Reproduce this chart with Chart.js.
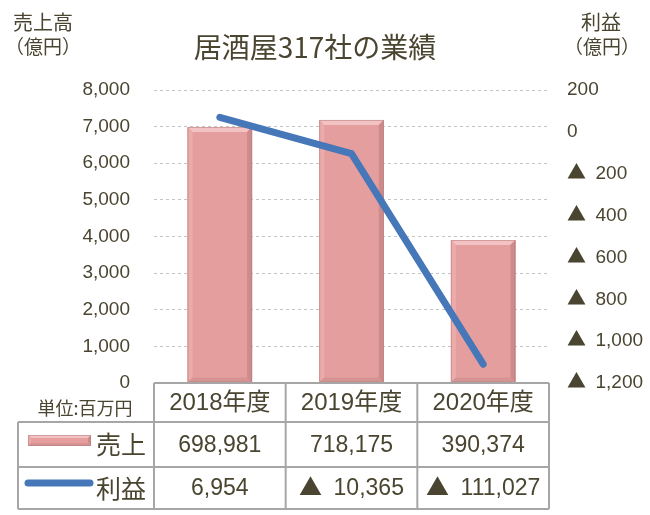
<!DOCTYPE html>
<html>
<head>
<meta charset="utf-8">
<script src="https://cdn.jsdelivr.net/npm/chart.js@4/dist/chart.umd.min.js"></script>
<style>
  @font-face { font-family: 'TriCJK'; src: local('Noto Sans CJK JP'), local('NotoSansCJKjp-Regular'), local('Noto Sans CJK JP Regular'); unicode-range: U+25B2; }
  html, body { margin: 0; padding: 0; background: #fff; }
  #wrap { width: 650px; height: 515px; position: relative; }
</style>
</head>
<body>
<div id="wrap"><canvas id="c" width="650" height="515"></canvas></div>
<script>
// ---- data ----
const categories = ['2018年度', '2019年度', '2020年度'];
const salesMillion = [698981, 718175, 390374];      // 売上 (百万円)
const profitMillion = [6954, -10365, -111027];      // 利益 (百万円)
const salesOku = [6989.81, 7181.75, 3903.74];        // 売上高 (億円)
const profitOku = [69.54, -103.65, -1110.27];        // 利益 (億円)
const titleText = '居酒屋317社の業績';
const leftAxisTitle = ['売上高', '（億円）'];
const rightAxisTitle = ['利益', '（億円）'];
const unitText = '単位:百万円';
const seriesNames = ['売上', '利益'];

const TXT = '#4a4530';
const GRIDC = '#c4c4c4';
const BAR = '#e59e9e';
const LINE = '#4677b8';
const SANS = "TriCJK, 'Liberation Sans', Arial, 'Noto Sans CJK JP', sans-serif";
const CJK = "'Noto Sans CJK JP', 'Liberation Sans', sans-serif";

function fmt(n) { return Math.abs(n).toLocaleString('en-US'); }
function fmtTri(n) { return n < 0 ? '▲\u2002' + fmt(n) : fmt(n); }

function bevelRect(ctx, x0, y0, x1, y1, b) {
  ctx.save();
  ctx.fillStyle = BAR;
  ctx.fillRect(x0, y0, x1 - x0, y1 - y0);
  ctx.fillStyle = '#f3c2c2';
  ctx.beginPath(); ctx.moveTo(x0, y0); ctx.lineTo(x1, y0); ctx.lineTo(x1 - b, y0 + b); ctx.lineTo(x0 + b, y0 + b); ctx.closePath(); ctx.fill();
  ctx.fillStyle = '#ecabab';
  ctx.beginPath(); ctx.moveTo(x0, y0); ctx.lineTo(x0 + b, y0 + b); ctx.lineTo(x0 + b, y1 - b); ctx.lineTo(x0, y1); ctx.closePath(); ctx.fill();
  ctx.fillStyle = '#cd8b8b';
  ctx.beginPath(); ctx.moveTo(x1, y0); ctx.lineTo(x1 - b, y0 + b); ctx.lineTo(x1 - b, y1 - b); ctx.lineTo(x1, y1); ctx.closePath(); ctx.fill();
  ctx.fillStyle = '#d69393';
  ctx.beginPath(); ctx.moveTo(x0, y1); ctx.lineTo(x0 + b, y1 - b); ctx.lineTo(x1 - b, y1 - b); ctx.lineTo(x1, y1); ctx.closePath(); ctx.fill();
  ctx.strokeStyle = 'rgba(175,120,120,0.5)';
  ctx.lineWidth = 1;
  ctx.strokeRect(x0 + 0.5, y0 + 0.5, x1 - x0 - 1, y1 - y0 - 1);
  ctx.restore();
}

const bevelPlugin = {
  id: 'bevel',
  afterDatasetDraw(chart, args) {
    if (args.index !== 0) return;
    const ctx = chart.ctx;
    const meta = chart.getDatasetMeta(0);
    meta.data.forEach(el => {
      const p = el.getProps(['x', 'y', 'base', 'width'], true);
      bevelRect(ctx, p.x - p.width / 2, p.y, p.x + p.width / 2, p.base, 5);
    });
  }
};

const decorPlugin = {
  id: 'decor',
  afterDraw(chart) {
    const ctx = chart.ctx;
    const ca = chart.chartArea;
    const xs = chart.scales.x;
    const n = categories.length;
    const colW = (ca.right - ca.left) / n;
    ctx.save();
    ctx.fillStyle = TXT;
    ctx.textBaseline = 'middle';
    ctx.textAlign = 'center';
    ctx.font = '28px ' + CJK;
    ctx.fillText(titleText, 315, 47);
    ctx.font = '20px ' + CJK;
    ctx.fillText(leftAxisTitle[0], 43, 22);
    ctx.font = '19px ' + CJK;
    ctx.fillText(leftAxisTitle[1], 43, 47);
    ctx.font = '20px ' + CJK;
    ctx.fillText(rightAxisTitle[0], 601, 22);
    ctx.font = '19px ' + CJK;
    ctx.fillText(rightAxisTitle[1], 602, 47);
    ctx.font = '18px ' + CJK;
    ctx.fillText(unitText, 85, 408);

    const top = ca.bottom;
    const r1 = 422, r2 = 467, r3 = 509;
    const tl = 18;
    ctx.strokeStyle = '#a6a6a6';
    ctx.lineWidth = 2;
    ctx.beginPath();
    ctx.moveTo(ca.left, top); ctx.lineTo(ca.right, top);
    [r1, r2, r3].forEach(y => { ctx.moveTo(tl, y); ctx.lineTo(ca.right, y); });
    for (let i = 0; i <= n; i++) {
      const x = ca.left + i * colW;
      ctx.moveTo(x, top); ctx.lineTo(x, r3);
    }
    ctx.moveTo(tl, r1); ctx.lineTo(tl, r3);
    ctx.stroke();

    ctx.fillStyle = TXT;
    ctx.textAlign = 'center';
    for (let i = 0; i < n; i++) {
      const cx = xs.getPixelForValue(i);
      ctx.font = '24px ' + SANS;
      ctx.fillText(categories[i], cx, (top + r1) / 2 + 1);
      ctx.font = '23px ' + SANS;
      ctx.fillText(fmtTri(salesMillion[i]), cx, (r1 + r2) / 2 + 1);
      ctx.fillText(fmtTri(profitMillion[i]), cx, (r2 + r3) / 2 + 1);
    }
    bevelRect(ctx, 28, 435, 91, 446, 3);
    ctx.strokeStyle = LINE;
    ctx.lineWidth = 7;
    ctx.lineCap = 'round';
    ctx.beginPath(); ctx.moveTo(28, 483); ctx.lineTo(90, 483); ctx.stroke();
    ctx.fillStyle = TXT;
    ctx.font = '25px ' + CJK;
    ctx.textAlign = 'left';
    ctx.fillText(seriesNames[0], 96, 444);
    ctx.fillText(seriesNames[1], 96, 488);
    ctx.restore();
  }
};

function build() {
  new Chart(document.getElementById('c'), {
    data: {
      labels: categories,
      datasets: [
        {
          type: 'bar', label: seriesNames[0], data: salesOku, yAxisID: 'y',
          backgroundColor: BAR, borderWidth: 0, order: 2,
          barPercentage: 0.49, categoryPercentage: 1
        },
        {
          type: 'line', label: seriesNames[1], data: profitOku, yAxisID: 'y2',
          borderColor: LINE, borderWidth: 7, pointRadius: 0, pointHoverRadius: 0,
          borderCapStyle: 'round', borderJoinStyle: 'round', tension: 0, order: 1, fill: false
        }
      ]
    },
    options: {
      responsive: false,
      animation: false,
      events: [],
      layout: { padding: { top: 90, bottom: 132, left: 0, right: 0 } },
      plugins: { legend: { display: false }, tooltip: { enabled: false }, title: { display: false } },
      scales: {
        x: { display: false, offset: true },
        y: {
          position: 'left', min: 0, max: 8000,
          ticks: { stepSize: 1000, padding: 24, color: TXT, font: { family: SANS, size: 19 },
                   callback: v => fmt(v) },
          grid: { color: GRIDC, lineWidth: 1, drawTicks: false, tickLength: 0 },
          border: { display: false, dash: [3, 3] },
          afterFit: s => { s.width = 154; }
        },
        y2: {
          position: 'right', min: -1200, max: 200,
          ticks: { stepSize: 200, padding: 18, color: TXT, font: { family: SANS, size: 19 },
                   callback: v => fmtTri(v) },
          grid: { display: false, drawTicks: false },
          border: { display: false },
          afterFit: s => { s.width = 101; }
        }
      }
    },
    plugins: [bevelPlugin, decorPlugin]
  });
}
if (document.fonts && document.fonts.load) {
  Promise.all([
    document.fonts.load("19px TriCJK", "▲"),
    document.fonts.load("20px 'Noto Sans CJK JP'", "居酒屋")
  ]).then(build, build);
} else { build(); }
</script>
</body>
</html>
